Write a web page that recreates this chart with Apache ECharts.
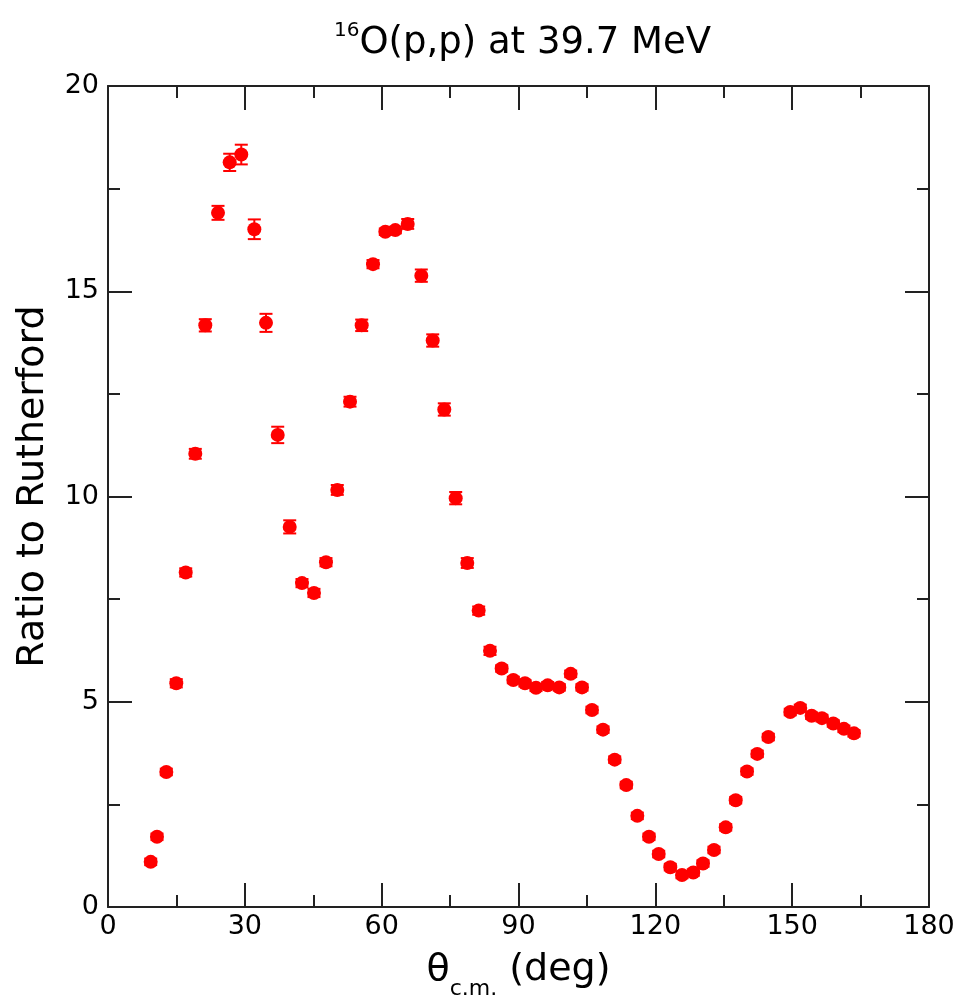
<!DOCTYPE html>
<html>
<head>
<meta charset="utf-8">
<script src="https://cdn.jsdelivr.net/npm/echarts@6/dist/echarts.min.js"></script>
<style>
html,body{margin:0;padding:0;background:#fff;}
#chart{width:976px;height:1003px;}
</style>
</head>
<body>
<div id="chart"></div>
<script>
// Scattering angle (deg, c.m.)
const theta = [9.36,10.74,12.78,14.97,17.04,19.14,21.33,24.12,26.68,29.22,32.08,34.64,37.21,39.84,42.53,45.16,47.79,50.27,53.06,55.62,58.10,60.80,62.99,65.71,68.69,71.19,73.73,76.23,78.77,81.27,83.75,86.31,88.86,91.42,93.84,96.40,98.94,101.44,103.92,106.11,108.53,111.09,113.63,116.05,118.61,120.74,123.28,125.85,128.32,130.45,132.86,135.43,137.62,140.10,142.35,144.77,149.58,151.77,154.27,156.53,159.01,161.35,163.55];
// Ratio to Rutherford
const ratio = [1.10,1.71,3.29,5.45,8.15,11.04,14.17,16.91,18.14,18.33,16.51,14.23,11.50,9.26,7.89,7.65,8.40,10.16,12.31,14.17,15.66,16.45,16.49,16.64,15.38,13.80,12.12,9.96,8.38,7.22,6.24,5.81,5.53,5.45,5.34,5.40,5.35,5.68,5.35,4.80,4.32,3.59,2.97,2.22,1.71,1.29,0.97,0.78,0.84,1.06,1.39,1.94,2.60,3.30,3.73,4.14,4.75,4.85,4.66,4.60,4.47,4.34,4.23];
// Uncertainty (+/-)
const err = [0.08,0.08,0.08,0.10,0.10,0.12,0.15,0.17,0.21,0.24,0.24,0.22,0.20,0.16,0.10,0.10,0.10,0.12,0.12,0.14,0.10,0.08,0.08,0.12,0.15,0.15,0.15,0.15,0.12,0.10,0.10,0.08,0.08,0.08,0.08,0.08,0.08,0.08,0.08,0.08,0.08,0.08,0.08,0.08,0.08,0.08,0.08,0.08,0.08,0.08,0.08,0.08,0.08,0.08,0.08,0.08,0.08,0.08,0.08,0.08,0.08,0.08,0.08];
const xTicks = [0,30,60,90,120,150,180];
const yTicks = [0,5,10,15,20];

const pts = theta.map((t,i)=>[t, ratio[i]]);
const errPts = theta.map((t,i)=>[t, ratio[i], err[i]]);

const FONT = 'DejaVu Sans';
const AX = '#222';
const RED = '#ff0000';

function axisCommon(showLabel) {
  return {
    show: true,
    axisLine: {show:true, onZero:false, lineStyle:{color:AX, width:2}},
    axisTick: {show:true, inside:true, length:24, lineStyle:{color:AX, width:2}},
    minorTick: {show:true, splitNumber:2, length:12, lineStyle:{color:AX, width:2}},
    splitLine: {show:false},
    minorSplitLine: {show:false},
    axisLabel: {show:showLabel, color:'#000', fontFamily:FONT, fontSize:28}
  };
}

const chart = echarts.init(document.getElementById('chart'), null, {renderer:'canvas'});
const option = {
  backgroundColor:'#fff',
  animation:false,
  title: {
    text: '{sup|16}{main|O(p,p) at 39.7 MeV}',
    left: 329, top: 16,
    textStyle: {
      fontWeight:'normal',
      rich: {
        sup: {fontFamily:FONT, fontSize:20, fontWeight:'normal', color:'#000', verticalAlign:'top', lineHeight:40},
        main: {fontFamily:FONT, fontSize:37, fontWeight:'normal', color:'#000', lineHeight:40, verticalAlign:'top', padding:[4,0,0,0]}
      }
    }
  },
  grid: {left:108, right:47, top:86, bottom:96, containLabel:false, outerBoundsMode:'none'},
  xAxis: [
    Object.assign(axisCommon(true), {
      type:'value', position:'bottom', min:0, max:180, interval:30,
      name:'{t|θ}{s|c.m.}{t| (deg)}',
      nameLocation:'middle', nameGap:44,
      nameTextStyle:{rich:{
        t:{fontFamily:FONT, fontSize:38, color:'#000', lineHeight:44, verticalAlign:'top'},
        s:{fontFamily:FONT, fontSize:22, color:'#000', lineHeight:22, verticalAlign:'top', padding:[27,0,0,0]}
      }},
      axisLabel:{show:true, color:'#000', fontFamily:FONT, fontSize:27, margin:6, formatter:(v)=>xTicks.includes(v)?String(v):''}
    }),
    Object.assign(axisCommon(false), {
      type:'value', position:'top', min:0, max:180, interval:30
    })
  ],
  yAxis: [
    Object.assign(axisCommon(true), {
      type:'value', position:'left', min:0, max:20, interval:5,
      name:'Ratio to Rutherford', nameLocation:'middle', nameGap:56, nameRotate:90,
      nameTextStyle:{fontFamily:FONT, fontSize:38, color:'#000', padding:[0,0,0,20]},
      axisLabel:{show:true, color:'#000', fontFamily:FONT, fontSize:27, margin:9, formatter:(v)=>yTicks.includes(v)?String(v):''}
    }),
    Object.assign(axisCommon(false), {
      type:'value', position:'right', min:0, max:20, interval:5
    })
  ],
  series: [
    {
      type:'custom',
      xAxisIndex:0, yAxisIndex:0,
      data: errPts,
      z: 3,
      renderItem: function(params, api){
        const x = api.value(0), y = api.value(1), e = api.value(2);
        const top = api.coord([x, y+e]);
        const bot = api.coord([x, y-e]);
        const hw = 6.5;
        const st = {stroke:RED, lineWidth:2};
        return {type:'group', children:[
          {type:'line', shape:{x1:top[0], y1:top[1], x2:bot[0], y2:bot[1]}, style:st},
          {type:'line', shape:{x1:top[0]-hw, y1:top[1], x2:top[0]+hw, y2:top[1]}, style:st},
          {type:'line', shape:{x1:bot[0]-hw, y1:bot[1], x2:bot[0]+hw, y2:bot[1]}, style:st}
        ]};
      }
    },
    {
      type:'scatter',
      xAxisIndex:0, yAxisIndex:0,
      data: pts,
      symbol:'circle', symbolSize:14,
      itemStyle:{color:RED, opacity:1},
      z: 4
    }
  ]
};
chart.setOption(option);
</script>
</body>
</html>
